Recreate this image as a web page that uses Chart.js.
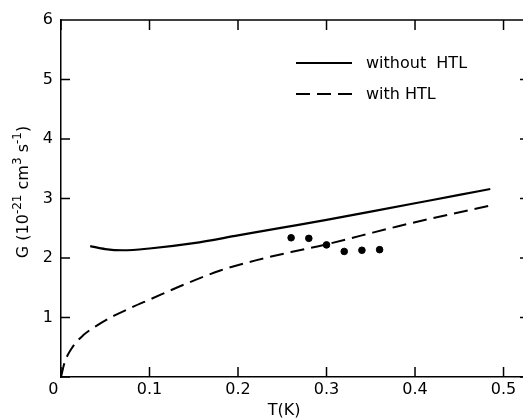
<!DOCTYPE html>
<html lang="en">
<head>
<meta charset="UTF-8">
<title>G vs T</title>
<script src="https://cdn.jsdelivr.net/npm/chart.js"></script>
<style>
  html, body { margin: 0; padding: 0; background: #fff; }
  #wrap { width: 523px; height: 419px; overflow: hidden; }
</style>
</head>
<body>
<div id="wrap"><canvas id="myChart" width="523" height="419"></canvas></div>
<script>
// values
const withoutT = [0.033, 0.05, 0.07, 0.1, 0.15, 0.2, 0.25, 0.3, 0.35, 0.4, 0.45, 0.485];
const withoutG = [2.20, 2.15, 2.13, 2.16, 2.25, 2.38, 2.51, 2.64, 2.78, 2.92, 3.06, 3.16];

const withT = [0, 0.004, 0.012, 0.025, 0.04, 0.06, 0.08, 0.1, 0.14, 0.18, 0.22, 0.26, 0.3, 0.34, 0.38, 0.42, 0.46, 0.49];
const withG = [0, 0.24, 0.48, 0.70, 0.86, 1.03, 1.17, 1.30, 1.56, 1.79, 1.96, 2.10, 2.23, 2.38, 2.53, 2.67, 2.80, 2.90];

const dotT = [0.26, 0.28, 0.30, 0.32, 0.34, 0.36];
const dotG = [2.34, 2.33, 2.22, 2.11, 2.13, 2.14];

const xTicks = [0, 0.1, 0.2, 0.3, 0.4, 0.5];
// the shared corner "0" sits left of the origin
const xTickLabels = ['0   ', '0.1', '0.2', '0.3', '0.4', '0.5'];
const yTicks = [0, 1, 2, 3, 4, 5, 6];
const yTickLabels = ['', '1', '2', '3', '4', '5', '6'];

const xTitle = 'T(K)';
// y title pieces: [text, superscript?]
const yTitle = [['G (10', false], ['-21', true], [' cm', false], ['3', true], [' s', false], ['-1', true], [')', false]];

const FONT = "'DejaVu Sans', sans-serif";
const pts = (xs, ys) => xs.map((x, i) => ({ x: x, y: ys[i] }));

// frame with inward ticks, titles and a legend inside the plot
const framePlugin = {
  id: 'frame',
  afterDraw(chart) {
    const ctx = chart.ctx;
    const a = chart.chartArea;
    const xs = chart.scales.x, ys = chart.scales.y;
    ctx.save();
    ctx.strokeStyle = '#000';
    ctx.lineWidth = 1.5;
    ctx.beginPath();
    ctx.moveTo(a.left, a.top);
    ctx.lineTo(a.right, a.top);
    xTicks.forEach(v => {
      const px = xs.getPixelForValue(v);
      ctx.moveTo(px, a.bottom);
      ctx.lineTo(px, a.bottom - 10);
      ctx.moveTo(px, a.top);
      ctx.lineTo(px, a.top + 10);
    });
    yTicks.forEach(v => {
      const py = ys.getPixelForValue(v);
      ctx.moveTo(a.left, py);
      ctx.lineTo(a.left + 9, py);
      // right frame is off the picture, only the tick ends show
      ctx.moveTo(a.right, py);
      ctx.lineTo(a.right - 3, py);
    });
    ctx.stroke();

    ctx.fillStyle = '#000';
    // x title
    ctx.font = '16px ' + FONT;
    ctx.textAlign = 'center';
    ctx.textBaseline = 'middle';
    ctx.fillText(xTitle, 284, 411);

    // rotated y title with superscripts
    const big = '16px ' + FONT, small = '12px ' + FONT;
    let total = 0;
    yTitle.forEach(([t, sup]) => { ctx.font = sup ? small : big; total += ctx.measureText(t).width; });
    ctx.translate(22, 192);
    ctx.rotate(-Math.PI / 2);
    ctx.textAlign = 'left';
    ctx.textBaseline = 'alphabetic';
    let x = -total / 2;
    yTitle.forEach(([t, sup]) => {
      ctx.font = sup ? small : big;
      ctx.fillText(t, x, sup ? -1 : 6);
      x += ctx.measureText(t).width;
    });
    ctx.setTransform(1, 0, 0, 1, 0, 0);

    // legend
    ctx.font = '16px ' + FONT;
    ctx.textBaseline = 'middle';
    let y = 63;
    chart.data.datasets.filter(d => d.label).forEach(d => {
      ctx.beginPath();
      ctx.lineWidth = 2;
      ctx.setLineDash(d.borderDash || []);
      ctx.moveTo(296, y);
      ctx.lineTo(352, y);
      ctx.stroke();
      ctx.setLineDash([]);
      ctx.fillText(d.label, 366, y + 1);
      y += 31;
    });
    ctx.restore();
  }
};

const config = {
  type: 'scatter',
  data: {
    datasets: [
      {
        label: 'without  HTL',
        data: pts(withoutT, withoutG),
        showLine: true,
        borderColor: '#000',
        borderWidth: 2.2,
        pointRadius: 0,
        cubicInterpolationMode: 'monotone'
      },
      {
        label: 'with HTL',
        data: pts(withT, withG),
        showLine: true,
        borderColor: '#000',
        borderWidth: 2,
        borderDash: [14, 7],
        pointRadius: 0,
        cubicInterpolationMode: 'monotone'
      },
      {
        data: pts(dotT, dotG),
        showLine: false,
        backgroundColor: '#000',
        borderColor: '#000',
        pointRadius: 3.3
      }
    ]
  },
  options: {
    responsive: false,
    animation: false,
    layout: { autoPadding: false, padding: { top: 20, right: 0, left: 0, bottom: 0 } },
    plugins: { legend: { display: false }, tooltip: { enabled: false } },
    scales: {
      x: {
        type: 'linear',
        min: 0,
        max: 0.522,
        afterBuildTicks: s => { s.ticks = xTicks.map(v => ({ value: v })); },
        afterFit: s => { s.height = 42; s.paddingRight = 0; s.paddingLeft = 0; },
        grid: { drawOnChartArea: false, drawTicks: false },
        border: { color: '#000', width: 1.5 },
        ticks: {
          color: '#000',
          padding: 3,
          font: { family: FONT, size: 16 },
          maxRotation: 0,
          callback: v => xTickLabels[xTicks.indexOf(v)]
        },
        title: { display: false }
      },
      y: {
        type: 'linear',
        min: 0,
        max: 6,
        afterBuildTicks: s => { s.ticks = yTicks.map(v => ({ value: v })); },
        afterFit: s => { s.width = 61; },
        grid: { drawOnChartArea: false, drawTicks: false },
        border: { color: '#000', width: 1.5 },
        ticks: {
          color: '#000',
          padding: 8,
          font: { family: FONT, size: 16 },
          callback: v => yTickLabels[yTicks.indexOf(v)]
        },
        title: { display: false }
      }
    }
  },
  plugins: [framePlugin]
};

const myChart = new Chart(document.getElementById('myChart'), config);
</script>
</body>
</html>
